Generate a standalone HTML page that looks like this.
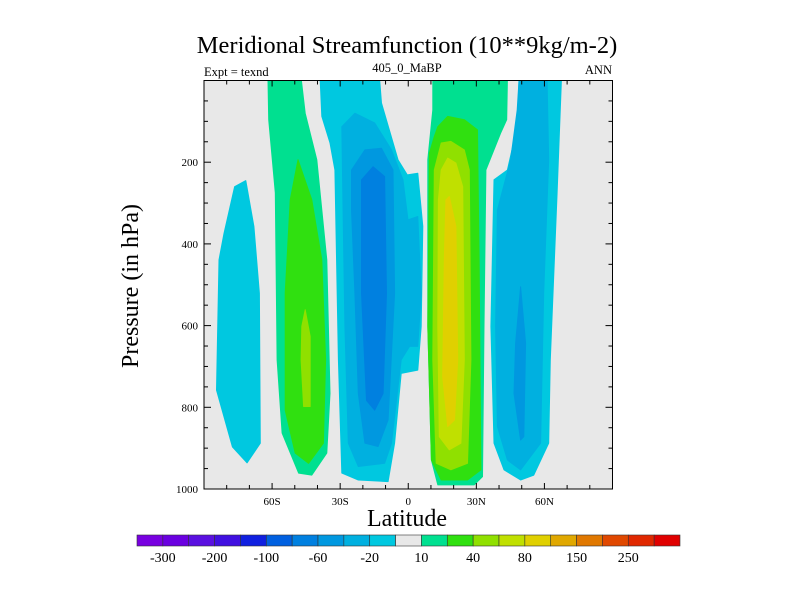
<!DOCTYPE html>
<html><head><meta charset="utf-8"><style>
body{margin:0;background:#fff;}
svg text{font-family:"Liberation Serif",serif;fill:#000;}
</style></head><body>
<svg id="chart" width="800" height="600" xmlns="http://www.w3.org/2000/svg">
<rect width="800" height="600" fill="#fff"/>
<text x="407" y="53" font-size="24.5" text-anchor="middle">Meridional Streamfunction (10**9kg/m-2)</text>
<text x="204" y="76" font-size="12.5">Expt = texnd</text>
<text x="407" y="72" font-size="12.5" text-anchor="middle">405_0_MaBP</text>
<text x="612" y="74" font-size="12.5" text-anchor="end">ANN</text>
<g id="plot"></g>
<text transform="translate(138,286) rotate(-90)" font-size="24" text-anchor="middle">Pressure (in hPa)</text>
<text x="407" y="526" font-size="24" text-anchor="middle">Latitude</text>
<g id="cbar"></g>
</svg>
<script>
const levelColors = ["#7800e0","#6a00e0","#5a10e0","#4010e0","#1020e0","#0060e0","#0080e0","#0098e0","#00b0e0","#00c8e0","#e8e8e8","#00e090","#30e010","#90e000","#c0e000","#e0d000","#e0a800","#e07800","#e04800","#e02800","#e00000"];
const colorbarLabels = ["-300","-200","-100","-60","-20","10","40","80","150","250"];
const latTicks = [-60,-30,0,30,60];
const latTickLabels = ["60S","30S","0","30N","60N"];
const presTicks = [200,400,600,800,1000];
// contour regions: [color index, lats, pressures]
const regionColor = [9,11,12,13,9,8,7,6,9,8,7,11,12,13,14,15];
const regionLat = [
 [-76.5,-71.6,-68,-65.6,-65.2,-71,-77.5,-84.5,-83.4,-81.2],
 [-61.8,-61.5,-58.6,-57.8,-55.6,-48.3,-42.5,-35.9,-34.5,-35.9,-40.3,-45.4,-47.1],
 [-48.6,-42.5,-38.1,-36.4,-37.4,-43.9,-49.8,-54.2,-54.2,-52],
 [-45.4,-43.2,-43.2,-46.1,-47.2,-46.9],
 [-38.8,-38.1,-34.5,-32.3,-30.8,-29.3,-22,-8.9,-6,-3.1,4.2,5.7,6.4,4.2,-0.4,-4.5,-11.8,-12.6],
 [-29.3,-23.5,-14.8,-7.4,-2.3,-0.1,4.2,5.7,4.2,0.6,-3.1,-7.4,-10.4,-22,-26.4,-27.9,-28.6],
 [-25,-19.1,-11.8,-6.7,-6,-8.9,-13.3,-19.1,-22,-23.5,-25],
 [-20.6,-15.5,-10.4,-9.6,-11.1,-14.8,-18.4,-20.6],
 [48.8,67.5,65.6,62.6,61.9,55.3,49.5,42.2,37.8,36.4,37.8,43.7,48],
 [48.8,61.2,61.9,59.7,58.3,49.5,43.7,39.3,38.5,39.3,45.1,48],
 [49.5,51.7,50.9,49.5,46.6,47.3],
 [10.8,43.7,43.4,40.7,34.2,33.4,32.7,29,13,10.2,8.6,8.6,10.8],
 [13,17.4,24.7,30.5,31.2,32,26.1,14.5,10.2,8.6,9.3,11.5],
 [14.5,18.8,24.7,26.9,27.6,26.1,18.8,12.3,10.8,11.5],
 [14.5,17.4,21,24,24.7,23.2,18.1,13.7,13,13.3],
 [16.6,18.1,21,21.8,20.4,17.4,15.2,15.9]
];
const regionPres = [
 [260,245,357,521,888,936,897,758,439,374],
 [0,96,275,684,863,961,966,912,766,439,194,80,0],
 [194,292,439,684,888,937,912,807,520,292],
 [561,627,798,798,684,602],
 [0,88,153,219,684,961,978,982,888,717,709,602,357,227,231,194,55,0],
 [113,80,104,170,243,341,333,521,651,651,684,888,937,945,888,602,357],
 [219,170,166,219,521,831,896,888,766,521,317],
 [243,211,235,521,766,807,783,521],
 [0,0,276,684,888,966,978,953,888,602,243,219,113],
 [0,0,194,521,888,953,929,847,602,317,194,72],
 [505,643,872,880,766,643],
 [0,0,96,129,219,602,970,990,990,929,602,194,72],
 [113,88,96,121,439,953,978,978,929,602,178,137],
 [153,149,170,219,684,937,953,937,684,219],
 [219,190,202,260,684,888,904,872,602,292],
 [292,284,357,684,831,847,725,439]
];
const NS="http://www.w3.org/2000/svg";
const L=204,R=612.5,T=80.5,B=489;
const xs=lat=>L+(lat+90)/180*(R-L);
const ys=p=>T+p/1000*(B-T);
function mk(tag,attrs,parent){const e=document.createElementNS(NS,tag);for(const k in attrs)e.setAttribute(k,attrs[k]);parent.appendChild(e);return e;}
const plot=document.getElementById('plot');
const bg=mk('rect',{x:L,y:T,width:R-L,height:B-T,fill:'#e8e8e8'},plot);


const cp=mk('clipPath',{id:'clip'},plot);mk('rect',{x:L,y:T,width:R-L,height:B-T},cp);
const rg=mk('g',{'clip-path':'url(#clip)'},plot);
regionLat.forEach((lats,i)=>{
 const pts=lats.map((la,j)=>xs(la).toFixed(1)+','+ys(regionPres[i][j]).toFixed(1)).join(' ');
 const pg=mk('polygon',{points:pts,fill:levelColors[regionColor[i]],stroke:levelColors[regionColor[i]],'stroke-width':1,'stroke-linejoin':'round'},rg);
 
 
});
const fr=mk('rect',{x:L,y:T,width:R-L,height:B-T,fill:'none',stroke:'#000','stroke-width':1},plot);


// lat ticks every 10
for(let la=-80;la<=80;la+=10){
 const maj=la%30===0,x=xs(la),len=maj?6:4;
 mk('line',{x1:x,x2:x,y1:B,y2:B-len,stroke:'#000'},plot);
 mk('line',{x1:x,x2:x,y1:T,y2:T+len,stroke:'#000'},plot);
}
latTicks.forEach((la,i)=>{
 const t=mk('text',{x:xs(la),y:B+16,'font-size':11,'text-anchor':'middle'},plot);
 t.textContent=latTickLabels[i];
 
 
});
for(let p=50;p<1000;p+=50){
 const maj=p%200===0,y=ys(p),len=maj?7:4;
 mk('line',{x1:L,x2:L+len,y1:y,y2:y,stroke:'#000'},plot);
 mk('line',{x1:R,x2:R-len,y1:y,y2:y,stroke:'#000'},plot);
}
presTicks.forEach(p=>{
 const t=mk('text',{x:L-6,y:ys(p)+4,'font-size':11,'text-anchor':'end'},plot);
 t.textContent=p;
 
 
});
const cb=document.getElementById('cbar');
const cx0=137,cx1=680,cy=535,ch=11,bw=(cx1-cx0)/levelColors.length;
levelColors.forEach((c,i)=>{
 const r=mk('rect',{x:cx0+i*bw,y:cy,width:bw,height:ch,fill:c,stroke:'#333','stroke-width':0.6},cb);
 
 
});
colorbarLabels.forEach((s,i)=>{
 const t=mk('text',{x:cx0+(2*i+1)*bw,y:cy+27,'font-size':14,'text-anchor':'middle'},cb);
 t.textContent=s;
 
 
});
</script>
</body></html>
